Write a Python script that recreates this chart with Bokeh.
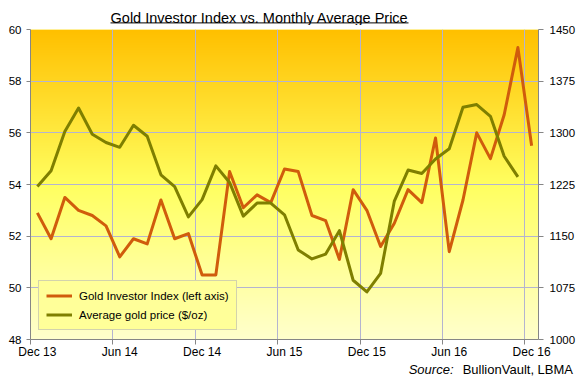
import numpy as np
from bokeh.plotting import figure
from bokeh.layouts import column
from bokeh.models import Range1d, LinearAxis, FixedTicker, Legend, LegendItem, Plot
from bokeh.core.properties import value
from bokeh.embed import file_html
from bokeh.resources import INLINE

# ---- data ----
months = ["Dec 13", "Jan 14", "Feb 14", "Mar 14", "Apr 14", "May 14", "Jun 14",
          "Jul 14", "Aug 14", "Sep 14", "Oct 14", "Nov 14", "Dec 14",
          "Jan 15", "Feb 15", "Mar 15", "Apr 15", "May 15", "Jun 15",
          "Jul 15", "Aug 15", "Sep 15", "Oct 15", "Nov 15", "Dec 15",
          "Jan 16", "Feb 16", "Mar 16", "Apr 16", "May 16", "Jun 16",
          "Jul 16", "Aug 16", "Sep 16", "Oct 16", "Nov 16", "Dec 16"]
gii = [52.9, 51.9, 53.5, 53.0, 52.8, 52.4, 51.2, 51.9, 51.7, 53.4, 51.9, 52.1,
       50.5, 50.5, 54.5, 53.1, 53.6, 53.3, 54.6, 54.5, 52.8, 52.6, 51.1, 53.8,
       53.0, 51.6, 52.5, 53.8, 53.3, 55.8, 51.4, 53.4, 56.0, 55.0, 56.7, 59.3, 55.5]
gold = [1222, 1245, 1302, 1336, 1298, 1286, 1279, 1311, 1295, 1239, 1222, 1178,
        1203, 1252, 1228, 1179, 1198, 1198, 1181, 1130, 1117, 1124, 1158, 1086,
        1069, 1096, 1201, 1246, 1241, 1262, 1277, 1337, 1341, 1324, 1266, 1236]
tick_labels = ["Dec 13", "Jun 14", "Dec 14", "Jun 15", "Dec 15", "Jun 16", "Dec 16"]
left_ticks = [48, 50, 52, 54, 56, 58, 60]
right_ticks = [1000, 1075, 1150, 1225, 1300, 1375, 1450]
title_text = "Gold Investor Index vs. Monthly Average Price"
source_lead = "Source:"
source_text = "BullionVault, LBMA"

FONT = "Liberation Sans"
n = len(months)
x_gii = [months.index(m) + 0.5 for m in months]
x_gold = [months.index(m) + 0.5 for m in months[:len(gold)]]
label_pos = [months.index(t) + 0.5 for t in tick_labels]
bounds = [months.index(t) for t in tick_labels]

W = 578
HAS_FA = "frame_align" in Plot.properties()


def no_align(f):
    if HAS_FA:
        f.frame_align = False
    return f


def strip_fig(h):
    f = figure(width=W, height=h, x_range=Range1d(0, W), y_range=Range1d(0, h),
               x_axis_type=None, y_axis_type=None, output_backend="svg",
               toolbar_location=None, min_border=0, outline_line_color=None,
               background_fill_color="white", border_fill_color="white")
    f.grid.visible = False
    return no_align(f)


# ---- title strip (underlined title) ----
TH = 25
tf = strip_fig(TH)
tf.text(x=[259], y=[TH - 17.2], text=[title_text], text_font=value(FONT),
        text_font_size=value("14.5px"), text_align="center",
        text_baseline="alphabetic", text_color="black")
tf.segment(x0=[110], y0=[TH - 22.4], x1=[408], y1=[TH - 22.4],
           line_color="black", line_width=1)

# ---- main chart ----
p = figure(width=W, height=336, x_range=Range1d(0, n),
           y_range=Range1d(left_ticks[0], left_ticks[-1]),
           output_backend="svg", toolbar_location=None,
           min_border_left=30, min_border_right=38, min_border_top=4,
           min_border_bottom=22, outline_line_color=None,
           border_fill_color="white", background_fill_color="#FFFF99")
no_align(p)

FH = 310
t = np.linspace(1.0, 0.0, FH)  # row 0 = bottom
stops_t = [0.0, 0.5, 1.0]
stops_c = np.array([[255, 192, 0], [255, 255, 96], [255, 255, 205]], dtype=float)
cols = np.stack([np.interp(t, stops_t, stops_c[:, k]) for k in range(3)], axis=1)
img = np.zeros((FH, 2), dtype=np.uint32)
view = img.view(dtype=np.uint8).reshape((FH, 2, 4))
for j in range(2):
    view[:, j, 0] = cols[:, 0]
    view[:, j, 1] = cols[:, 1]
    view[:, j, 2] = cols[:, 2]
    view[:, j, 3] = 255
p.image_rgba(image=[img], x=0, y=left_ticks[0], dw=n,
             dh=left_ticks[-1] - left_ticks[0], level="image")

GRID = "#B4B4D0"
AX = "#868686"
p.xgrid.ticker = FixedTicker(ticks=bounds)
p.ygrid.ticker = FixedTicker(ticks=left_ticks)
for g in (p.xgrid[0], p.ygrid[0]):
    g.grid_line_color = GRID
    g.grid_line_width = 1

xa = p.xaxis[0]
xa.ticker = FixedTicker(ticks=label_pos, minor_ticks=bounds)
xa.major_label_overrides = {lp: tl for lp, tl in zip(label_pos, tick_labels)}
xa.major_tick_out = 0
xa.major_tick_in = 0
xa.minor_tick_out = 0
xa.minor_tick_in = -5   # drawn outward without taking layout space
xa.minor_tick_line_color = AX
xa.axis_line_color = AX
xa.axis_label_standoff = 0
xa.major_label_standoff = 5
xa.major_label_text_font = FONT
xa.major_label_text_font_size = "12px"
xa.major_label_text_color = "black"

ya = p.yaxis[0]
ya.ticker = FixedTicker(ticks=left_ticks)
ya.major_tick_out = 4
ya.major_tick_in = 0
ya.minor_tick_out = 0
ya.minor_tick_in = 0
ya.axis_line_color = AX
ya.major_tick_line_color = AX
ya.major_label_standoff = 5
ya.major_label_text_font = FONT
ya.major_label_text_font_size = "11.5px"
ya.major_label_text_color = "black"

p.extra_y_ranges = {"price": Range1d(right_ticks[0], right_ticks[-1])}
ra = LinearAxis(y_range_name="price", ticker=FixedTicker(ticks=right_ticks))
ra.major_tick_out = 5
ra.major_tick_in = 0
ra.minor_tick_out = 0
ra.minor_tick_in = 0
ra.axis_line_color = AX
ra.major_tick_line_color = AX
ra.major_label_standoff = 6
ra.major_label_text_font = FONT
ra.major_label_text_font_size = "11.5px"
ra.major_label_text_color = "black"
p.add_layout(ra, "right")

r1 = p.line(x_gii, gii, line_color="#D05C0C", line_width=3, line_join="round")
r2 = p.line(x_gold, gold, y_range_name="price", line_color="#7F7F00",
            line_width=3, line_join="round")

legend = Legend(items=[LegendItem(label="Gold Investor Index (left axis)", renderers=[r1]),
                       LegendItem(label="Average gold price ($/oz)", renderers=[r2])],
                location=(8, 9), orientation="vertical",
                border_line_color="#A8A8C0", border_line_width=1,
                background_fill_color="#FFFF99", background_fill_alpha=1.0,
                label_text_font=FONT, label_text_font_size="11.5px",
                label_text_color="black",
                glyph_width=26, glyph_height=15, label_height=15,
                spacing=4, padding=7, label_standoff=7, margin=0)
p.add_layout(legend)

# ---- source strip ----
BH = 18
bf = strip_fig(BH)
bf.text(x=[453], y=[9.8], text=[source_lead], text_font=value(FONT),
        text_font_size=value("13px"), text_font_style="italic",
        text_align="right", text_baseline="alphabetic", text_color="black")
bf.text(x=[572.5], y=[9.8], text=[source_text], text_font=value(FONT),
        text_font_size=value("13px"), text_align="right",
        text_baseline="alphabetic", text_color="black")

page = column(tf, p, bf, spacing=0)
open("out.html", "w").write(file_html(page, INLINE))
